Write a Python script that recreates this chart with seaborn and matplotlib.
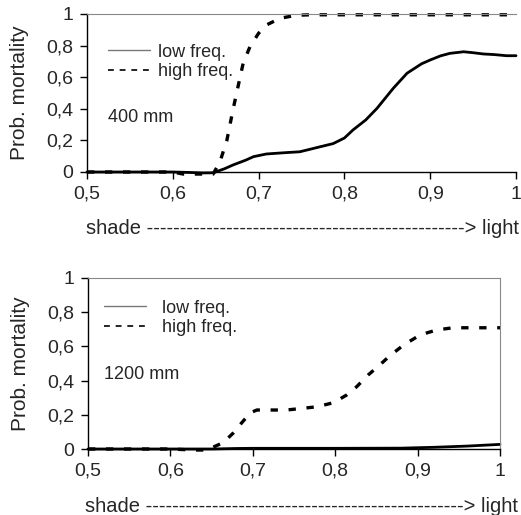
import numpy as np
import matplotlib as mpl
mpl.use("Agg")
import matplotlib.pyplot as plt
import seaborn as sns
from matplotlib.lines import Line2D


# data
x_400_low = [0.5, 0.55, 0.6, 0.62, 0.635, 0.647, 0.66, 0.67, 0.685, 0.694, 0.709, 0.73, 0.748,
             0.772, 0.787, 0.8, 0.81, 0.825, 0.838, 0.857, 0.873, 0.89, 0.9, 0.912, 0.923,
             0.939, 0.95, 0.962, 0.975, 0.989, 1.0]
y_400_low = [0, 0, 0, -0.003, -0.006, -0.005, 0.02, 0.044, 0.075, 0.097, 0.114, 0.122, 0.128,
             0.16, 0.18, 0.215, 0.266, 0.33, 0.403, 0.53, 0.625, 0.685, 0.709, 0.735, 0.751,
             0.761, 0.755, 0.747, 0.743, 0.736, 0.736]

x_400_high = [0.5, 0.6, 0.612, 0.63, 0.647, 0.655, 0.663, 0.67, 0.676, 0.682, 0.69, 0.7,
              0.709, 0.725, 0.744, 0.76, 0.8, 0.85, 0.9, 0.95, 1.0]
y_400_high = [0, 0, -0.013, -0.013, -0.013, 0.065, 0.2, 0.39, 0.54, 0.688, 0.794, 0.878,
              0.93, 0.973, 0.992, 0.995, 0.995, 0.995, 0.995, 0.995, 0.995]

x_1200_low = [0.5, 0.6, 0.65, 0.68, 0.7, 0.8, 0.88, 0.92, 0.96, 1.0]
y_1200_low = [0, 0, 0, 0.003, 0.004, 0.004, 0.005, 0.01, 0.017, 0.027]

x_1200_high = [0.5, 0.6, 0.628, 0.644, 0.664, 0.676, 0.686, 0.697, 0.705, 0.72, 0.741, 0.778,
               0.798, 0.814, 0.826, 0.84, 0.854, 0.866, 0.883, 0.903, 0.923, 0.943, 0.97, 1.0]
y_1200_high = [0, 0, -0.006, -0.006, 0.037, 0.092, 0.15, 0.212, 0.228, 0.228, 0.228, 0.247,
               0.271, 0.316, 0.364, 0.433, 0.491, 0.544, 0.608, 0.667, 0.696, 0.709, 0.709, 0.709]

x_ticks = [0.5, 0.6, 0.7, 0.8, 0.9, 1.0]
y_ticks = [0, 0.2, 0.4, 0.6, 0.8, 1.0]
legend_labels = ["low freq.", "high freq."]
panel_labels = ["400 mm", "1200 mm"]
x_text = "shade " + "-" * 48 + "> light"
y_text = "Prob. mortality"


sns.set_style("ticks")
plt.rcParams['font.family'] = ['Liberation Sans', 'DejaVu Sans']

W, H = 521, 515
fig = plt.figure(figsize=(W / 100, H / 100), dpi=100)

def box(l, t, r, b):
    return [l / W, 1 - b / H, (r - l) / W, (b - t) / H]

ax1 = fig.add_axes(box(87, 14, 516, 172))
ax2 = fig.add_axes(box(88, 278, 500, 449))

comma = mpl.ticker.FuncFormatter(lambda v, p: ('%g' % v).replace('.', ','))
dash = (0, (2.2, 3.2))

panels = [
    (ax1, x_400_low, y_400_low, x_400_high, y_400_high, panel_labels[0], 0.348, 0.696, 0.049, 0.45),
    (ax2, x_1200_low, y_1200_low, x_1200_high, y_1200_high, panel_labels[1], 0.433, 0.766, 0.039, 0.9),
]

for ax, xl, yl, xh, yh, lab, lab_y, leg_y, leg_x, tpad in panels:
    sns.lineplot(x=xl, y=yl, ax=ax, color='black', lw=2.0, clip_on=False)
    sns.lineplot(x=xh, y=yh, ax=ax, color='black', lw=2.4, ls=dash, clip_on=False)

    ax.set_xlim(0.5, 1.0)
    ax.set_ylim(0, 1)
    ax.set_xticks(x_ticks)
    ax.set_yticks(y_ticks)
    ax.xaxis.set_major_formatter(comma)
    ax.yaxis.set_major_formatter(comma)
    ax.tick_params(labelsize=14, length=5, width=1, color='black', pad=5)
    for s in ['left', 'bottom']:
        ax.spines[s].set_color('black')
        ax.spines[s].set_linewidth(1.0)
    ax.spines['top'].set_color('#888888')
    ax.spines['top'].set_linewidth(0.8)
    ax.spines['right'].set_color('#888888')
    ax.spines['right'].set_linewidth(0.8)

    ax.set_ylabel(y_text, fontsize=15)
    ax.text(leg_x, lab_y, lab, transform=ax.transAxes, fontsize=13, va='center', ha='left')

    handles = [Line2D([], [], color='#777777', lw=1.0),
               Line2D([], [], color='black', lw=1.2, ls=(0, (3.5, 3.5)))]
    ax.legend(handles, legend_labels, loc='center left', bbox_to_anchor=(leg_x, leg_y),
              frameon=False, fontsize=13, handlelength=2.3, handletextpad=tpad,
              labelspacing=0.15, borderpad=0, borderaxespad=0)

ax1.spines['right'].set_visible(False)
ax1.yaxis.set_label_coords(-0.135, 0.5)
ax2.yaxis.set_label_coords(-0.140, 0.5)

fig.text(302.5 / W, 1 - 228 / H, x_text, fontsize=14.5, ha='center', va='center')
fig.text(301.5 / W, 1 - 506 / H, x_text, fontsize=14.5, ha='center', va='center')

fig.savefig('out.png', dpi=100)
